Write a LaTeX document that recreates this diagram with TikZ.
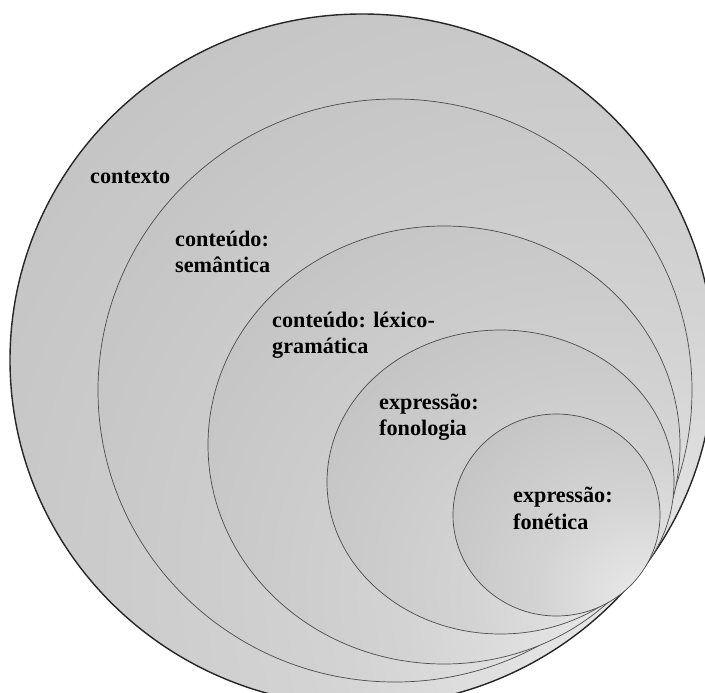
\documentclass[tikz,border=0pt]{standalone}
\usepackage{fontspec}
\setmainfont{Liberation Serif}
\definecolor{litgray}{gray}{0.93}
\definecolor{midgray}{gray}{0.83}
\definecolor{dimgray}{gray}{0.74}
% soft light coming from the lower right of every ring
\pgfdeclareradialshading{sheen}{\pgfpoint{24bp}{-24bp}}{%
  color(0bp)=(litgray); color(22bp)=(midgray); color(55bp)=(dimgray); color(95bp)=(dimgray)}
\begin{document}
\begin{tikzpicture}[x=1pt,y=-1pt,
  ring/.style={shading=sheen, draw=black!70, line width=0.7pt},
  rim/.style={shading=sheen, draw=black!85, line width=1.4pt},
  tag/.style={font=\fontsize{22.2}{26}\selectfont\bfseries, anchor=base west,
              inner sep=0pt, text=black}]
\useasboundingbox (0,0) rectangle (705,693);
\clip (0,0) rectangle (705,693);

% nested levels, outermost first
\draw[rim]  (362,360)   ellipse [x radius=352pt,   y radius=346pt];
\draw[ring] (395,390.5) ellipse [x radius=297pt,   y radius=291.5pt];
\draw[ring] (444,445)   ellipse [x radius=236pt,   y radius=219pt];
\draw[ring] (500.5,482) ellipse [x radius=173.5pt, y radius=152pt];
\draw[ring] (556.5,515) ellipse [x radius=103.5pt, y radius=101pt];

\node[tag] (contexto) at (90,183) {contexto};
\node[tag] (sem1) at (175,246) {conteúdo:};
\node[tag] (sem2) at (175,272) {semântica};
\node[tag] (lex1) at (272,327) {conteúdo: léxico-};
\node[tag] (lex2) at (272,353) {gramática};
\node[tag] (fon1) at (379,409) {expressão:};
\node[tag] (fon2) at (379,435) {fonologia};
\node[tag] (fot1) at (513,502) {expressão:};
\node[tag] (fot2) at (513,529) {fonética};
\end{tikzpicture}
\end{document}
